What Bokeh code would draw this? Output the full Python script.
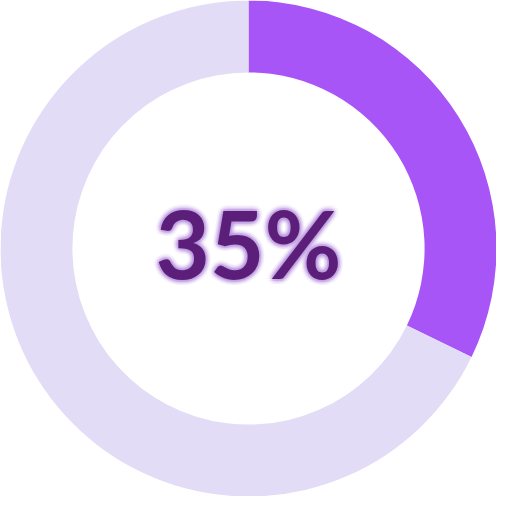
import numpy as np
from bokeh.plotting import figure
from bokeh.models import ColumnDataSource
from bokeh.core.properties import value
from bokeh.embed import file_html
from bokeh.resources import INLINE

segments = ["done", "rest"]
shares = [32.2, 67.8]
colors = ["#a855f7", "#e2dcf6"]
label = "35%"

angles = np.array(shares) / sum(shares) * 2 * np.pi
ends = np.pi / 2 - np.concatenate([[0], np.cumsum(angles)[:-1]])
starts = ends - angles

source = ColumnDataSource(dict(segment=segments, start=starts, end=ends, color=colors))

p = figure(width=496, height=496, x_range=(-1, 1), y_range=(-1, 1),
           output_backend="svg", toolbar_location=None, min_border=0)
p.axis.visible = False
p.grid.visible = False
p.outline_line_color = None
p.background_fill_color = "white"

p.annular_wedge(x=0, y=0, inner_radius=0.71, outer_radius=1.0,
                start_angle="start", end_angle="end", color="color",
                line_color=None, source=source)

ty = 0.025

# soft glow behind the number
for r, a in [(0.022, 0.06), (0.015, 0.09), (0.008, 0.14)]:
    for k in range(12):
        t = k * np.pi / 6
        p.text(x=[r * np.cos(t)], y=[ty + r * np.sin(t)], text=[label],
               text_font=value("Lato"), text_font_style="bold",
               text_font_size="94px", text_color="#b58be0", text_alpha=a,
               text_align="center", text_baseline="middle")

p.text(x=[0], y=[ty], text=[label], text_font=value("Lato"),
       text_font_style="bold", text_font_size="94px", text_color="#5b1f7a",
       text_align="center", text_baseline="middle")

open("out.html", "w").write(file_html(p, INLINE))
